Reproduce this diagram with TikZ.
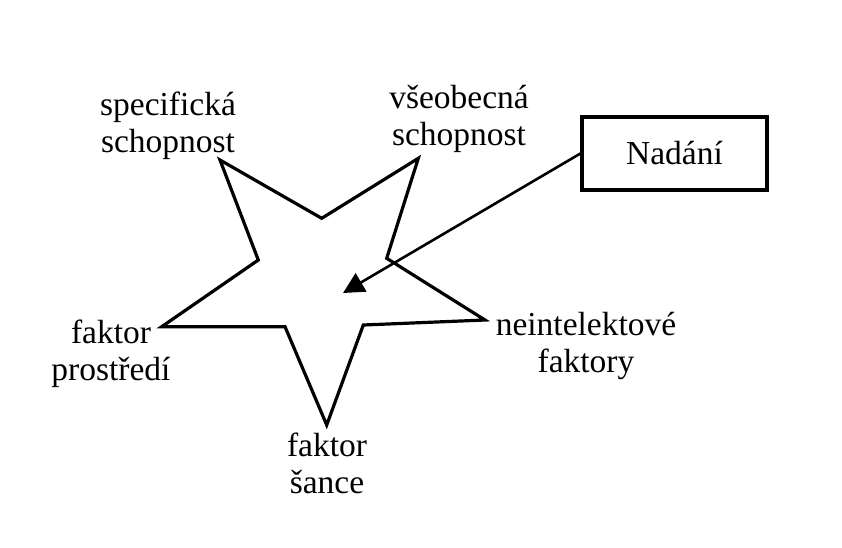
\documentclass[tikz,border=0pt]{standalone}
\usepackage{fontspec}
\setmainfont{Liberation Serif}
\usetikzlibrary{arrows.meta}
\tikzset{
  lbl/.style={align=center, font=\fontsize{33.5}{37}\selectfont, inner sep=0pt, anchor=base},
  starline/.style={line width=3.2pt, line join=miter},
  box/.style={draw, line width=3.2pt, minimum width=185pt, minimum height=73pt, inner sep=0pt, font=\fontsize{33.5}{37}\selectfont},
  conn/.style={line width=2.6pt, -{Triangle[length=21pt,width=21pt]}}
}
\begin{document}
\begin{tikzpicture}[x=1pt,y=-1pt]
\useasboundingbox[fill=white] (0,0) rectangle (842,547);
% star
\draw[starline] (220,160) -- (321.7,218.3) -- (418.3,158.3) -- (386.7,258.3) -- (485,320)
  -- (363.3,325) -- (326.7,425) -- (285,326.7) -- (161.7,326.7) -- (258.3,260) -- cycle;
% labels (base anchor = baseline of last line)
\node[lbl] (spec) at (168,152) {specifická\\schopnost};
\node[lbl] (vseob) at (459,145) {všeobecná\\schopnost};
\node[lbl] (neint) at (586,372) {neintelektové\\faktory};
\node[lbl] (sance) at (327,493) {faktor\\šance};
\node[lbl] (prost) at (111,380) {faktor\\prostředí};
% box
\node[box] (nadani) at (674.5,153.5) {Nadání};
\coordinate (tip) at (343,293);
\draw[conn] (nadani.west) -- (tip);
\end{tikzpicture}
\end{document}
